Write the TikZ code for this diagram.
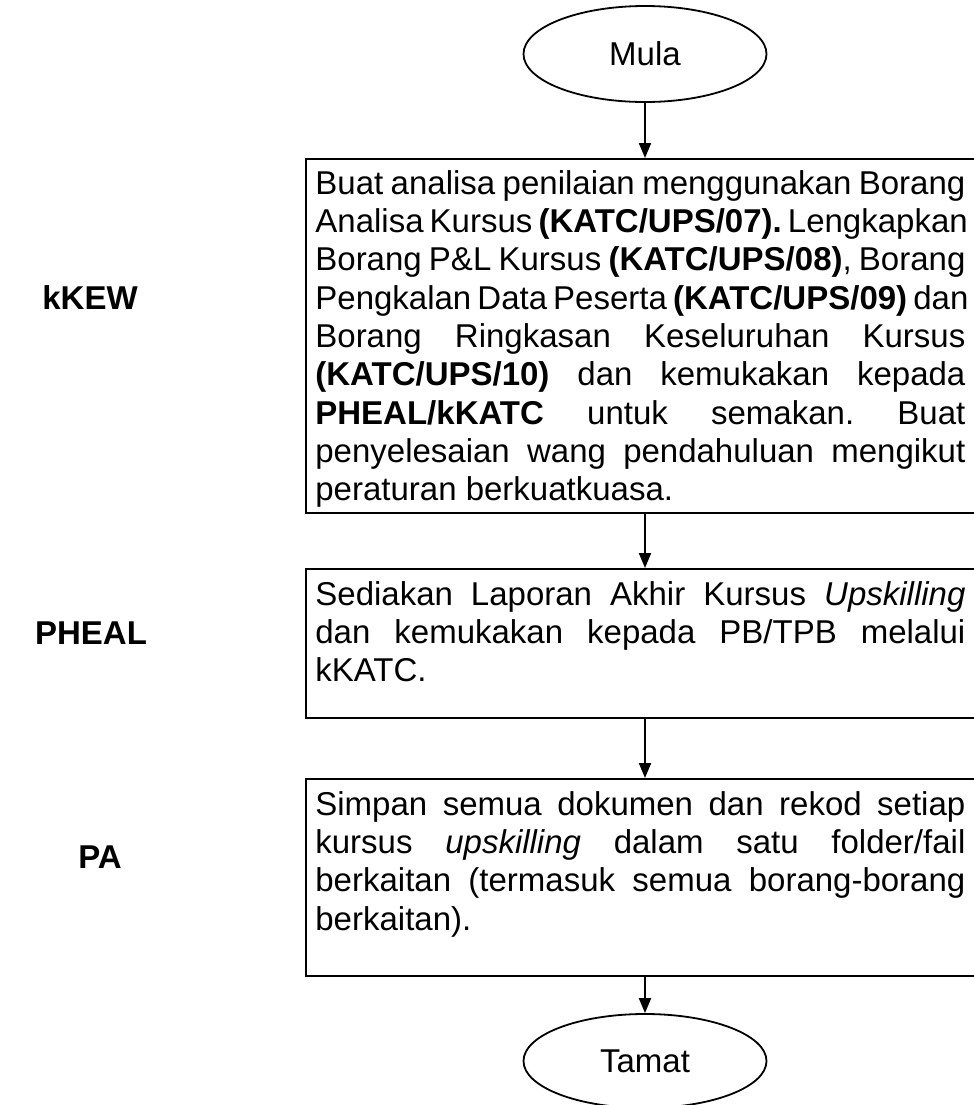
\documentclass[tikz,border=0pt]{standalone}
\usepackage{fontspec}
\setmainfont{Liberation Sans}
\usetikzlibrary{shapes.geometric,arrows.meta}
\hbadness=10000
\hfuzz=20pt
\newcommand{\jline}[1]{\leavevmode\hbox to 325pt{\spaceskip=0pt\xspaceskip=0pt #1}}
\tikzset{
  lbl/.style={font=\fontsize{16.5pt}{19.15pt}\selectfont\bfseries},
  term/.style={ellipse, draw, line width=0.9pt, minimum width=121.5pt, font=\fontsize{16.5pt}{19.15pt}\selectfont},
  boxframe/.style={rectangle, draw, line width=1.1pt, minimum width=350pt, anchor=north west, inner sep=0pt},
  boxtext/.style={anchor=north west, text width=325pt, inner xsep=5pt, inner ysep=0pt, align=justify, font=\fontsize{16.5pt}{19.15pt}\selectfont\frenchspacing},
  arr/.style={line width=1pt, -{Triangle[width=6pt,length=7.5pt]}}
}
\begin{document}
\begin{tikzpicture}[x=0.5pt,y=-0.5pt]
\useasboundingbox (0,0) rectangle (974,1105);
\clip (0,0) rectangle (974,1105);
\fill[white] (0,0) rectangle (974,1105);

\node[term, minimum height=48pt] (mula) at (645,54) {Mula};

\node[boxframe, minimum height=177pt] (b1) at (305,158) {};
\node[boxtext] (t1) at (305,170) {\jline{Buat analisa penilaian menggunakan Borang}\\
\jline{Analisa Kursus \textbf{(KATC/UPS/07).} Lengkapkan}\\
\jline{Borang P\&L Kursus \textbf{(KATC/UPS/08)}, Borang}\\
\jline{Pengkalan Data Peserta \textbf{(KATC/UPS/09)} dan}\\
\jline{Borang Ringkasan Keseluruhan Kursus}\\
\jline{\textbf{(KATC/UPS/10)} dan kemukakan kepada}\\
\jline{\textbf{PHEAL/kKATC} untuk semakan. Buat}\\
\jline{penyelesaian wang pendahuluan mengikut}\\
peraturan berkuatkuasa.};

\node[boxframe, minimum height=74.5pt] (b2) at (305,568) {};
\node[boxtext] (t2) at (305,581) {\jline{Sediakan Laporan Akhir Kursus \textit{Upskilling}}\\
\jline{dan kemukakan kepada PB/TPB melalui}\\
kKATC.};

\node[boxframe, minimum height=98.5pt] (b3) at (305,778) {};
\node[boxtext] (t3) at (305,791) {\jline{Simpan semua dokumen dan rekod setiap}\\
\jline{kursus \textit{upskilling} dalam satu folder/fail}\\
\jline{berkaitan (termasuk semua borang-borang}\\
berkaitan).};

\node[term, minimum height=47pt] (tamat) at (645,1061) {Tamat};

\node[lbl] (l1) at (90,298) {kKEW};
\node[lbl] (l2) at (91,633) {PHEAL};
\node[lbl] (l3) at (100,857) {PA};

\draw[arr] (mula.south) -- (mula.south |- b1.north);
\draw[arr] (mula.south |- b1.south) -- (mula.south |- b2.north);
\draw[arr] (mula.south |- b2.south) -- (mula.south |- b3.north);
\draw[arr] (mula.south |- b3.south) -- (tamat.north);
\end{tikzpicture}
\end{document}
